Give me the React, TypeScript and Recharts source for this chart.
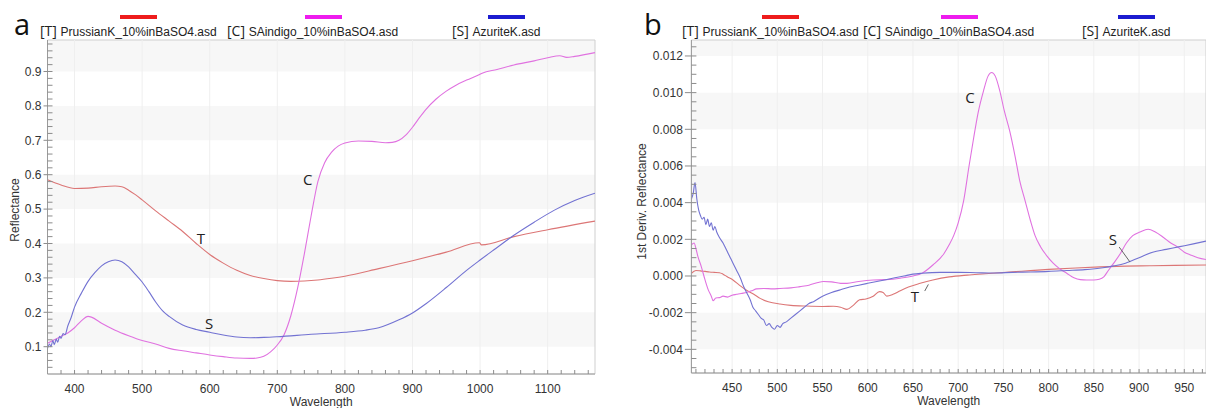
import React from "react";
import {
  LineChart,
  Line,
  XAxis,
  YAxis,
  ReferenceArea,
  ReferenceLine,
  ReferenceDot,
  Label,
} from "recharts";

// ---- panel a: reflectance ----
const prussianWaveA = [360, 380, 400, 420, 440, 460, 470, 480, 490, 500, 520, 540, 560, 580, 600, 620, 640, 660, 680, 700, 720, 740, 760, 780, 800, 850, 900, 950, 999, 1002, 1050, 1100, 1170];
const prussianReflA = [0.585, 0.57, 0.56, 0.561, 0.565, 0.567, 0.565, 0.555, 0.542, 0.527, 0.495, 0.465, 0.435, 0.4, 0.368, 0.343, 0.322, 0.307, 0.298, 0.292, 0.29, 0.291, 0.294, 0.299, 0.305, 0.327, 0.35, 0.375, 0.402, 0.396, 0.42, 0.44, 0.465];

const indigoWaveA = [360, 370, 380, 390, 400, 410, 420, 425, 440, 460, 480, 500, 520, 540, 560, 580, 600, 620, 640, 660, 670, 680, 690, 700, 710, 720, 730, 740, 750, 760, 770, 780, 790, 800, 820, 840, 860, 870, 880, 890, 900, 910, 920, 935, 950, 965, 980, 1000, 1003, 1025, 1050, 1080, 1100, 1118, 1128, 1140, 1170];
const indigoReflA = [0.11, 0.12, 0.13, 0.14, 0.155, 0.175, 0.188, 0.186, 0.168, 0.148, 0.132, 0.118, 0.108, 0.095, 0.088, 0.082, 0.076, 0.071, 0.067, 0.066, 0.067, 0.072, 0.085, 0.105, 0.135, 0.19, 0.27, 0.37, 0.48, 0.58, 0.635, 0.665, 0.683, 0.692, 0.698, 0.697, 0.693, 0.694, 0.7, 0.715, 0.738, 0.765, 0.79, 0.82, 0.843, 0.861, 0.875, 0.892, 0.895, 0.906, 0.919, 0.931, 0.94, 0.946, 0.941, 0.944, 0.955];

const azuriteWaveA = [360, 363, 365, 368, 370, 373, 375, 378, 380, 383, 386, 390, 395, 400, 410, 420, 430, 440, 450, 460, 470, 480, 490, 500, 510, 520, 530, 540, 560, 580, 600, 620, 640, 660, 680, 700, 750, 800, 830, 850, 880, 900, 920, 950, 980, 1000, 1020, 1050, 1080, 1110, 1140, 1170];
const azuriteReflA = [0.095, 0.108, 0.1, 0.118, 0.106, 0.122, 0.113, 0.13, 0.124, 0.138, 0.135, 0.16, 0.185, 0.215, 0.255, 0.29, 0.315, 0.335, 0.347, 0.352, 0.347, 0.332, 0.31, 0.288, 0.26, 0.23, 0.205, 0.188, 0.163, 0.15, 0.142, 0.134, 0.128, 0.126, 0.127, 0.129, 0.136, 0.142, 0.148, 0.155, 0.178, 0.198, 0.225, 0.272, 0.322, 0.352, 0.381, 0.424, 0.462, 0.497, 0.525, 0.546];

const xTicksA = [400, 500, 600, 700, 800, 900, 1000, 1100];
const yTicksA = [0.1, 0.2, 0.3, 0.4, 0.5, 0.6, 0.7, 0.8, 0.9];

// ---- panel b: first derivative ----
const prussianWaveB = [405, 410, 415, 420, 425, 430, 436, 440, 445, 451, 458, 466, 474, 481, 490, 503, 515, 532, 550, 562, 570, 577, 584, 591, 598, 606, 613, 617, 621, 628, 636, 645, 658, 672, 690, 710, 730, 746, 770, 800, 830, 857, 885, 912, 940, 974];
const prussianDerivB = [0.00015, 0.0003, 0.00028, 0.00025, 0.00022, 0.0002, 0.00018, 0.0001, -0.00005, -0.00022, -0.0005, -0.00078, -0.001, -0.00122, -0.0014, -0.00153, -0.0016, -0.00164, -0.00166, -0.00165, -0.0017, -0.00182, -0.0016, -0.0013, -0.00125, -0.0011, -0.00085, -0.0009, -0.0011, -0.001, -0.0008, -0.0006, -0.0004, -0.00022, -0.00005, 0.00005, 0.00012, 0.00018, 0.00026, 0.00036, 0.00044, 0.0005, 0.00054, 0.00056, 0.00058, 0.0006];

const indigoWaveB = [405, 408, 410, 412, 416, 420, 424, 427, 429, 432, 436, 440, 445, 450, 455, 460, 466, 472, 477, 485, 495, 503, 515, 525, 535, 545, 551, 560, 570, 577, 590, 606, 620, 636, 650, 660, 672, 684, 690, 695, 700, 706, 712, 717, 722, 728, 733, 737, 741, 746, 751, 757, 763, 768, 774, 780, 785, 791, 798, 805, 812, 820, 828, 835, 842, 850, 856, 861, 866, 872, 879, 886, 893, 901, 910, 918, 927, 935, 942, 950, 957, 965, 974];
const indigoDerivB = [0.0017, 0.0018, 0.0015, 0.0011, 0.0005, -0.0002, -0.0008, -0.0011, -0.00135, -0.0012, -0.00118, -0.0011, -0.00115, -0.00105, -0.001, -0.00095, -0.0009, -0.0008, -0.0007, -0.00068, -0.0007, -0.00068, -0.00065, -0.00058, -0.0005, -0.00035, -0.0003, -0.00032, -0.0004, -0.0004, -0.0003, -0.00022, -0.0002, -0.00012, 0.0, 0.00015, 0.0006, 0.0012, 0.0017, 0.0022, 0.0029, 0.0041, 0.006, 0.0075, 0.0089, 0.0101, 0.0109, 0.0111, 0.0109, 0.0101, 0.009, 0.0079, 0.0065, 0.0052, 0.0041, 0.003, 0.0022, 0.0016, 0.0011, 0.0007, 0.0004, 0.00015, -0.0001, -0.0002, -0.00022, -0.00022, -0.00018, -0.00005, 0.0003, 0.0007, 0.0012, 0.0018, 0.0022, 0.0024, 0.00255, 0.0024, 0.0021, 0.0018, 0.0016, 0.0013, 0.00115, 0.001, 0.0009];

const azuriteWaveB = [405, 407, 409, 411, 413, 415, 417, 419, 421, 423, 425, 427, 429, 431, 433, 436, 440, 444, 448, 451, 455, 459, 463, 466, 470, 473, 476, 479, 482, 485, 488, 491, 494, 497, 500, 503, 506, 510, 515, 520, 525, 530, 535, 540, 550, 560, 570, 580, 590, 600, 610, 620, 630, 640, 650, 660, 680, 700, 720, 740, 760, 780, 800, 820, 840, 860, 872, 885, 900, 915, 930, 945, 960, 974];
const azuriteDerivB = [0.0042, 0.0045, 0.0051, 0.0042, 0.0036, 0.0033, 0.0031, 0.0032, 0.0028, 0.0031, 0.0027, 0.0029, 0.0025, 0.0027, 0.0024, 0.0021, 0.0018, 0.0014, 0.001, 0.0007, 0.0003, -0.0001, -0.0006, -0.0009, -0.0013, -0.0017, -0.0019, -0.0021, -0.0023, -0.0024, -0.0027, -0.0026, -0.0028, -0.0029, -0.0027, -0.0028, -0.0026, -0.0025, -0.0023, -0.0021, -0.0019, -0.0017, -0.0015, -0.0014, -0.0011, -0.0009, -0.00075, -0.0006, -0.0005, -0.0004, -0.0003, -0.0002, -0.0001, 0.0, 0.0001, 0.00015, 0.0002, 0.0002, 0.00018, 0.00016, 0.0002, 0.00022, 0.00025, 0.0003, 0.00035, 0.00045, 0.00055, 0.0007, 0.001, 0.0013, 0.00145, 0.0016, 0.00175, 0.0019];

const xTicksB = [450, 500, 550, 600, 650, 700, 750, 800, 850, 900, 950];
const yTicksB = [-0.004, -0.002, 0.0, 0.002, 0.004, 0.006, 0.008, 0.01, 0.012];

const fileNames = ["PrussianK_10%inBaSO4.asd", "SAindigo_10%inBaSO4.asd", "AzuriteK.asd"];
const fileTags = ["[T]", "[C]", "[S]"];

const LINE_COLORS = ["#dc7676", "#e072e0", "#7272d2"];
const KEY_COLORS = ["#ee1c1c", "#ee1cee", "#1c1cd0"];
const FONT = "'Liberation Sans', Arial, sans-serif";
const SEGOE = "'Open Sans', 'Noto Sans', sans-serif";

const toPoints = (xs: number[], ys: number[]) => xs.map((x, i) => ({ x, y: ys[i] }));

function isMajor(v: number, majors: number[]) {
  return majors.some((m) => Math.abs(m - v) < 1e-9);
}

function makeXTick(majors: number[]) {
  return (props: any) => {
    const { x, y, payload } = props;
    const major = isMajor(payload.value, majors);
    return (
      <g>
        <line x1={x} x2={x} y1={y} y2={y - 4} stroke="#8c8c8c" />
        {major && (
          <text x={x} y={y + 19} textAnchor="middle" fontSize={12} fontFamily={FONT} fill="#333">
            {payload.value}
          </text>
        )}
      </g>
    );
  };
}

function makeYTick(majors: number[], digits: number, gap: number) {
  return (props: any) => {
    const { x, y, payload } = props;
    const major = isMajor(payload.value, majors);
    return (
      <g>
        <line x1={x} x2={x + 5} y1={y} y2={y} stroke="#8c8c8c" />
        {major && <line x1={x - gap + 2} x2={x} y1={y} y2={y} stroke="#8c8c8c" />}
        {major && (
          <text x={x - gap} y={y + 4.3} textAnchor="end" fontSize={12} fontFamily={FONT} fill="#333">
            {payload.value.toFixed(digits)}
          </text>
        )}
      </g>
    );
  };
}

function steps(from: number, to: number, step: number, scale: number) {
  const out: number[] = [];
  for (let i = Math.round(from * scale); i <= Math.round(to * scale); i += Math.round(step * scale)) out.push(i / scale);
  return out;
}

interface Note {
  text: string;
  x: number;
  y: number;
}

interface PanelProps {
  letter: string;
  left: number;
  width: number;
  series: { x: number; y: number }[][];
  xDomain: [number, number];
  yDomain: [number, number];
  xMajor: number[];
  xMinor: number[];
  yMajor: number[];
  yMinor: number[];
  digits: number;
  yAxisWidth: number;
  xAxisHeight: number;
  tickGap: number;
  yLabel: string;
  yLabelDx: number;
  yLabelDy: number;
  bands: [number, number][];
  notes: Note[];
  leaders: [number, number, number, number][];
  letterX: number;
  legendX: number[];
}

function Panel(p: PanelProps) {
  return (
    <div style={{ position: "absolute", left: p.left, top: 0, width: p.width, height: 408 }}>
      <div style={{ position: "absolute", left: p.letterX, top: 4, fontFamily: SEGOE, fontSize: 29, color: "#111", lineHeight: "40px" }}>
        {p.letter}
      </div>
      {fileNames.map((name, i) => (
        <div key={name} style={{ position: "absolute", left: p.legendX[i], top: 19, whiteSpace: "nowrap" }}>
          <span style={{ fontFamily: SEGOE, fontSize: 14, color: "#222", lineHeight: "24px" }}>{fileTags[i]} </span>
          <span style={{ position: "relative", fontFamily: FONT, fontSize: 12, color: "#222", lineHeight: "24px" }}>
            <span
              style={{
                position: "absolute",
                left: "50%",
                top: -10,
                width: 37,
                marginLeft: -18.5,
                height: 4,
                background: KEY_COLORS[i],
              }}
            />
            {name}
          </span>
        </div>
      ))}
      <LineChart width={p.width} height={408} margin={{ top: 40, right: p.left === 0 ? 5 : 0, bottom: 0, left: 0 }} style={{ position: "absolute", left: 0, top: 0 }}>
        <XAxis
          type="number"
          dataKey="x"
          domain={p.xDomain}
          ticks={p.xMinor}
          interval={0}
          allowDataOverflow
          height={p.xAxisHeight}
          tickSize={0}
          tickMargin={0}
          tickLine={false}
          axisLine={{ stroke: "#9a9a9a" }}
          tick={makeXTick(p.xMajor)}
        >
          <Label
            content={(lp: any) => {
              const vb = lp.viewBox;
              return (
                <text x={vb.x + vb.width / 2} y={vb.y + 32} textAnchor="middle" fontSize={12} fontFamily={FONT} fill="#333">
                  Wavelength
                </text>
              );
            }}
          />
        </XAxis>
        <YAxis
          type="number"
          domain={p.yDomain}
          ticks={p.yMinor}
          interval={0}
          allowDataOverflow
          width={p.yAxisWidth}
          tickSize={0}
          tickMargin={0}
          tickLine={false}
          axisLine={{ stroke: "#9a9a9a" }}
          tick={makeYTick(p.yMajor, p.digits, p.tickGap)}
        >
          <Label
            content={(lp: any) => {
              const vb = lp.viewBox;
              const cx = vb.x + p.yLabelDx;
              const cy = vb.y + vb.height / 2 + p.yLabelDy;
              return (
                <text x={cx} y={cy} transform={`rotate(-90 ${cx} ${cy})`} textAnchor="middle" dominantBaseline="central" fontSize={12} fontFamily={FONT} fill="#333">
                  {p.yLabel}
                </text>
              );
            }}
          />
        </YAxis>
        {p.bands.map(([y1, y2]) => (
          <ReferenceArea key={`b${y1}`} y1={y1} y2={y2} fill="#f7f7f7" fillOpacity={1} stroke="none" ifOverflow="hidden" />
        ))}
        {p.xMajor.map((v) => (
          <ReferenceLine key={`g${v}`} x={v} stroke="#efefef" />
        ))}
        {p.series.map((pts, i) => (
          <Line
            key={i}
            data={pts}
            dataKey="y"
            type="monotone"
            stroke={LINE_COLORS[i]}
            strokeWidth={1.1}
            dot={false}
            activeDot={false}
            isAnimationActive={false}
          />
        ))}
        {p.leaders.map(([x1, y1, x2, y2], i) => (
          <ReferenceLine key={`l${i}`} segment={[{ x: x1, y: y1 }, { x: x2, y: y2 }]} stroke="#666" />
        ))}
        {p.notes.map((n) => (
          <ReferenceDot
            key={n.text}
            x={n.x}
            y={n.y}
            r={0}
            fill="none"
            stroke="none"
            label={{ value: n.text, position: "center", fontSize: 15, fontFamily: SEGOE, fill: "#222" }}
          />
        ))}
        <ReferenceArea
          x1={p.xDomain[0]}
          x2={p.xDomain[1]}
          y1={p.yDomain[0]}
          y2={p.yDomain[1]}
          fill="none"
          stroke="#cfcfcf"
          ifOverflow="visible"
        />
      </LineChart>
    </div>
  );
}

export default function App() {
  const domainA: [number, number] = [360, 1170];
  const rangeA: [number, number] = [0.0206, 0.9916];
  const domainB: [number, number] = [405, 974];
  const rangeB: [number, number] = [-0.00529, 0.01287];

  return (
    <div style={{ position: "absolute", left: 0, top: 0, width: 1206, height: 408, background: "#fff", overflow: "hidden" }}>
      <Panel
        letter="a"
        left={0}
        width={600}
        series={[
          toPoints(prussianWaveA, prussianReflA),
          toPoints(indigoWaveA, indigoReflA),
          toPoints(azuriteWaveA, azuriteReflA),
        ]}
        xDomain={domainA}
        yDomain={rangeA}
        xMajor={xTicksA}
        xMinor={steps(380, 1160, 20, 1)}
        yMajor={yTicksA}
        yMinor={steps(0.04, 0.98, 0.02, 100)}
        digits={1}
        yAxisWidth={47.5}
        xAxisHeight={34}
        tickGap={6}
        yLabel="Reflectance"
        yLabelDx={15}
        yLabelDy={3}
        bands={[[0.1, 0.2], [0.3, 0.4], [0.5, 0.6], [0.7, 0.8], [0.9, rangeA[1]]]}
        notes={[
          { text: "T", x: 587, y: 0.413 },
          { text: "S", x: 599, y: 0.166 },
          { text: "C", x: 745, y: 0.585 },
        ]}
        leaders={[]}
        letterX={14}
        legendX={[40, 227, 452]}
      />
      <Panel
        letter="b"
        left={600}
        width={606}
        series={[
          toPoints(prussianWaveB, prussianDerivB),
          toPoints(indigoWaveB, indigoDerivB),
          toPoints(azuriteWaveB, azuriteDerivB),
        ]}
        xDomain={domainB}
        yDomain={rangeB}
        xMajor={xTicksB}
        xMinor={steps(410, 970, 10, 1)}
        yMajor={yTicksB}
        yMinor={steps(-0.005, 0.0125, 0.0005, 10000)}
        digits={3}
        yAxisWidth={91.4}
        xAxisHeight={35}
        tickGap={8.5}
        yLabel="1st Deriv. Reflectance"
        yLabelDx={41.7}
        yLabelDy={-5}
        bands={[[-0.004, -0.002], [0, 0.002], [0.004, 0.006], [0.008, 0.01], [0.012, rangeB[1]]]}
        notes={[
          { text: "C", x: 713, y: 0.0097 },
          { text: "S", x: 871, y: 0.00196 },
          { text: "T", x: 652, y: -0.00115 },
        ]}
        leaders={[
          [878, 0.00158, 890, 0.00076],
          [663, -0.00082, 667, -0.00046],
        ]}
        letterX={44}
        legendX={[82, 263, 482]}
      />
    </div>
  );
}
